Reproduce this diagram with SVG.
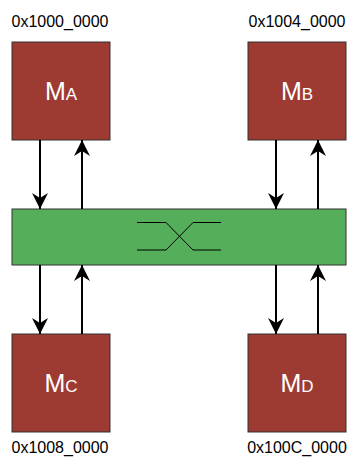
<svg xmlns="http://www.w3.org/2000/svg" width="349" height="458" viewBox="0 0 349 458">
<defs>
<marker id="ah" viewBox="0 0 16 16" refX="16" refY="8" markerWidth="16" markerHeight="16" markerUnits="userSpaceOnUse" orient="auto">
<path d="M0,0 L16,8 L0,16 L5,8 Z" fill="#000"/>
</marker>
</defs>
<style>
.mem{fill:#9d3b33;stroke:#333;stroke-width:1}
.bus{fill:#55ae59;stroke:#333;stroke-width:1}
.addr{font-family:"Liberation Sans",Arial,sans-serif;font-size:16px;fill:#000;text-anchor:middle}
.lbl{font-family:"Liberation Sans",Arial,sans-serif;fill:#fff;text-anchor:middle}
.big{font-size:25px}
.sm{font-size:17px}
.c{stroke:#000;stroke-width:2;fill:none;marker-end:url(#ah)}
.x{stroke:#000;stroke-width:1;fill:none}
</style>
<g id="bus"><rect class="bus" x="12" y="209" width="334" height="56"/>
<path class="x" d="M137,222.5 H166 L193,250 H221 M137,250 H166 L193,222.5 H221"/></g>
<g id="MA"><rect class="mem" x="12" y="42" width="98" height="98"/><text class="lbl" x="61" y="100"><tspan class="big">M</tspan><tspan class="sm">A</tspan></text><text class="addr" x="60" y="27">0x1000_0000</text></g>
<g id="MB"><rect class="mem" x="248" y="42" width="98" height="98"/><text class="lbl" x="297" y="100"><tspan class="big">M</tspan><tspan class="sm">B</tspan></text><text class="addr" x="297" y="27">0x1004_0000</text></g>
<g id="MC"><rect class="mem" x="12" y="334" width="98" height="98"/><text class="lbl" x="61" y="392"><tspan class="big">M</tspan><tspan class="sm">C</tspan></text><text class="addr" x="60" y="453">0x1008_0000</text></g>
<g id="MD"><rect class="mem" x="248" y="334" width="98" height="98"/><text class="lbl" x="297" y="392"><tspan class="big">M</tspan><tspan class="sm">D</tspan></text><text class="addr" x="297" y="453">0x100C_0000</text></g>
<g id="connectors">
<line class="c" x1="40" y1="140" x2="40" y2="209"/>
<line class="c" x1="82" y1="209" x2="82" y2="140"/>
<line class="c" x1="276" y1="140" x2="276" y2="209"/>
<line class="c" x1="318" y1="209" x2="318" y2="140"/>
<line class="c" x1="40" y1="265" x2="40" y2="334"/>
<line class="c" x1="82" y1="334" x2="82" y2="265"/>
<line class="c" x1="276" y1="265" x2="276" y2="334"/>
<line class="c" x1="318" y1="334" x2="318" y2="265"/>
</g>
</svg>
